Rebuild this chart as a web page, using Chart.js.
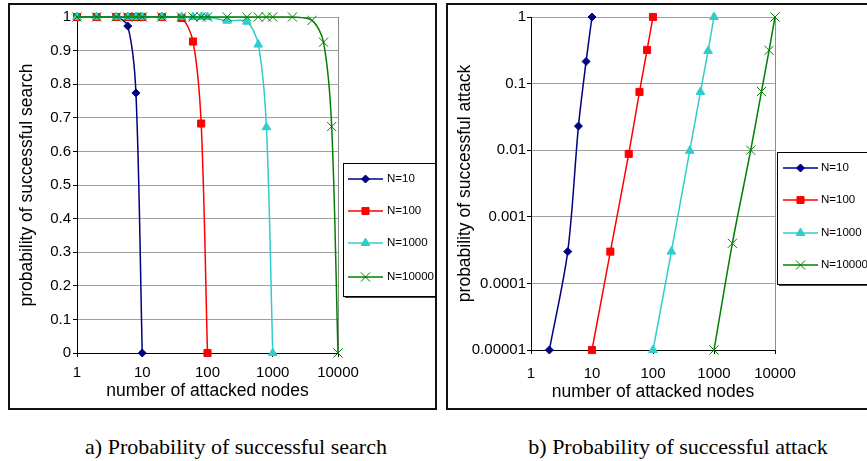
<!DOCTYPE html>
<html>
<head>
<meta charset="utf-8">
<script src="https://cdn.jsdelivr.net/npm/chart.js@4.4.1/dist/chart.umd.min.js"></script>
<style>
  html, body { margin: 0; padding: 0; background: #fff; }
  body { width: 867px; height: 461px; position: relative; overflow: hidden; }
  .panel { position: absolute; top: 3px; height: 407px; border: 2px solid #111; box-sizing: border-box; background: #fff; }
  #panelA { left: 8px; width: 429px; }
  #panelB { left: 446px; width: 430px; }
  .panel canvas { display: block; }
  .caption { position: absolute; top: 435px; line-height: 24px; font-family: "Liberation Serif", "Times New Roman", serif;
             font-size: 22px; color: #000; white-space: nowrap; transform: translateX(-50%); }
</style>
</head>
<body>
<div class="panel" id="panelA"><canvas id="searchChart" width="425" height="403"></canvas></div>
<div class="panel" id="panelB"><canvas id="attackChart" width="426" height="403"></canvas></div>
<div class="caption" style="left:236px">a) Probability of successful search</div>
<div class="caption" style="left:678px">b) Probability of successful attack</div>
<script>
// series names
var seriesLabels = ['N=10', 'N=100', 'N=1000', 'N=10000'];

// axis tick labels
var nodeTicks = [1, 10, 100, 1000, 10000];
var searchTicks = [0, 0.1, 0.2, 0.3, 0.4, 0.5, 0.6, 0.7, 0.8, 0.9, 1];
var attackTicks = [0.00001, 0.0001, 0.001, 0.01, 0.1, 1];

// a) probability of successful search
var searchNodesN10 = [1, 2, 4, 6, 8, 10];
var searchNodesN100 = [1, 2, 4, 6, 8, 10, 20, 40, 60, 80, 100];
var searchNodesN1000 = [1, 2, 4, 6, 8, 10, 20, 40, 60, 80, 100, 200, 400, 600, 800, 1000];
var searchNodesN10000 = [1, 2, 4, 6, 8, 10, 20, 40, 60, 80, 100, 200, 400, 600, 800, 1000, 2000, 4000, 6000, 8000, 10000];
var searchN10 = [1, 1, 1, 0.973, 0.774, 0];
var searchN100 = [1, 1, 1, 1, 1, 1, 1, 0.997, 0.927, 0.683, 0];
var searchN1000 = [1, 1, 1, 1, 1, 1, 1, 1, 1, 1, 1, 0.989, 0.986, 0.918, 0.672, 0];
var searchN10000 = [1, 1, 1, 1, 1, 1, 1, 1, 1, 1, 1, 1, 1, 1, 1, 1, 1, 0.99, 0.925, 0.674, 0];

// b) probability of successful attack
var attackNodesN10 = [2, 4, 6, 8, 10];
var attackNodesN100 = [10, 20, 40, 60, 80, 100];
var attackNodesN1000 = [100, 200, 400, 600, 800, 1000];
var attackNodesN10000 = [1000, 2000, 4000, 6000, 8000, 10000];
var attackN10 = [0.00001, 0.0003, 0.023, 0.215, 1];
var attackN100 = [0.00001, 0.0003, 0.0088, 0.075, 0.32, 1];
var attackN1000 = [0.00001, 0.0003, 0.0098, 0.075, 0.31, 1];
var attackN10000 = [0.00001, 0.0004, 0.01, 0.076, 0.316, 1];

var seriesStyle = [
    { color: '#000080', pointStyle: 'rectRot', radius: 4 },
    { color: '#ff0000', pointStyle: 'rect', radius: 5 },
    { color: '#33cccc', pointStyle: 'triangle', radius: 5 },
    { color: '#008000', pointStyle: 'crossRot', radius: 6.5 }
];

var fontFamily = '"Liberation Sans", Arial, sans-serif';
var tickFont = { family: fontFamily, size: 15 };
var titleFont = { family: fontFamily, size: 17.5 };

function buildDatasets(xsList, ysList) {
    return seriesLabels.map(function (label, i) {
        var st = seriesStyle[i];
        return {
            label: label,
            data: xsList[i].map(function (x, j) { return { x: x, y: ysList[i][j] }; }),
            borderColor: st.color,
            backgroundColor: st.color,
            pointBackgroundColor: st.color,
            pointBorderColor: st.color,
            pointStyle: st.pointStyle,
            pointRadius: st.radius,
            pointBorderWidth: 1,
            borderWidth: 1.5,
            tension: 0.3,
            clip: false,
            order: 3 - i // N=10000 on top
        };
    });
}

// gray plot frame behind the axes, boxed legend on top
var frameAndLegend = {
    id: 'frameAndLegend',
    beforeDraw: function (chart) {
        var ctx = chart.ctx, a = chart.chartArea;
        ctx.save();
        ctx.strokeStyle = '#8c8c8c';
        ctx.lineWidth = 1;
        ctx.strokeRect(Math.round(a.left) + 0.5, Math.round(a.top) + 0.5,
            Math.round(a.right - a.left), Math.round(a.bottom - a.top));
        ctx.restore();
    },
    afterDraw: function (chart, args, opts) {
        var ctx = chart.ctx;
        var b = opts.box;
        ctx.save();
        ctx.fillStyle = '#444';
        ctx.fillRect(b.x + 2, b.y + 2, b.w, b.h);
        ctx.fillStyle = '#fff';
        ctx.fillRect(b.x, b.y, b.w, b.h);
        ctx.strokeStyle = '#000';
        ctx.lineWidth = 1;
        ctx.strokeRect(b.x + 0.5, b.y + 0.5, b.w, b.h);
        ctx.font = '11.5px ' + fontFamily;
        ctx.textBaseline = 'middle';
        ctx.textAlign = 'left';
        chart.data.datasets.forEach(function (ds, i) {
            var y = opts.rows[i];
            ctx.strokeStyle = ds.borderColor;
            ctx.lineWidth = 1.5;
            ctx.beginPath();
            ctx.moveTo(opts.lineX0, y);
            ctx.lineTo(opts.lineX1, y);
            ctx.stroke();
            ctx.fillStyle = ds.pointBackgroundColor;
            ctx.strokeStyle = ds.pointBorderColor;
            ctx.lineWidth = 1;
            Chart.helpers.drawPoint(ctx, {
                pointStyle: ds.pointStyle, radius: ds.pointRadius, rotation: 0, borderWidth: 1
            }, (opts.lineX0 + opts.lineX1) / 2, y);
            ctx.fillStyle = '#000';
            ctx.fillText(ds.label, opts.textX, y);
        });
        ctx.restore();
    }
};

function logXAxis(height, tickPad, titlePad) {
    return {
        type: 'logarithmic', min: 1, max: 10000,
        afterBuildTicks: function (s) { s.ticks = nodeTicks.map(function (v) { return { value: v }; }); },
        afterFit: function (s) { s.height = height; },
        ticks: { callback: function (v) { return String(v); }, color: '#000', font: tickFont,
                 padding: tickPad, maxRotation: 0, autoSkip: false },
        grid: { drawOnChartArea: false, drawTicks: true, tickLength: 4, tickColor: '#000' },
        border: { color: '#000', width: 1 },
        title: { display: true, text: 'number of attacked nodes', color: '#000', font: titleFont,
                 padding: { top: 0, bottom: titlePad } }
    };
}

function yAxis(extra, ticks, width, tickPad, titleText, titlePad) {
    return Object.assign({
        afterBuildTicks: function (s) { s.ticks = ticks.map(function (v) { return { value: v }; }); },
        afterFit: function (s) { s.width = width; },
        ticks: { callback: function (v) { return String(v); }, color: '#000', font: tickFont, padding: tickPad },
        grid: { color: '#a0a0a0', lineWidth: 1, tickColor: '#000', tickLength: 4 },
        border: { color: '#000', width: 1 },
        title: { display: true, text: titleText, color: '#000', font: titleFont,
                 padding: { top: titlePad, bottom: 0 } }
    }, extra);
}

new Chart(document.getElementById('searchChart'), {
    type: 'line',
    data: {
        datasets: buildDatasets(
            [searchNodesN10, searchNodesN100, searchNodesN1000, searchNodesN10000],
            [searchN10, searchN100, searchN1000, searchN10000])
    },
    options: {
        responsive: false,
        animation: false,
        layout: { padding: { left: 0, right: 97, top: 12, bottom: 0 } },
        scales: {
            x: logXAxis(55, 7, 6),
            y: yAxis({ min: 0, max: 1 }, searchTicks, 67, 2, 'probability of successful search', 7)
        },
        plugins: {
            legend: { display: false },
            tooltip: { enabled: false },
            frameAndLegend: {
                box: { x: 333, y: 158, w: 92, h: 133 },
                rows: [174, 206, 238, 272],
                lineX0: 338, lineX1: 373, textX: 377
            }
        }
    },
    plugins: [frameAndLegend]
});

new Chart(document.getElementById('attackChart'), {
    type: 'line',
    data: {
        datasets: buildDatasets(
            [attackNodesN10, attackNodesN100, attackNodesN1000, attackNodesN10000],
            [attackN10, attackN100, attackN1000, attackN10000])
    },
    options: {
        responsive: false,
        animation: false,
        layout: { padding: { left: 0, right: 99, top: 12, bottom: 0 } },
        scales: {
            x: logXAxis(58, 11, 5),
            y: yAxis({ type: 'logarithmic', min: 0.00001, max: 1 }, attackTicks, 83, 1,
                'probability of successful attack', 7)
        },
        plugins: {
            legend: { display: false },
            tooltip: { enabled: false },
            frameAndLegend: {
                box: { x: 329, y: 147, w: 110, h: 132 },
                rows: [163, 195, 228, 260],
                lineX0: 335, lineX1: 370, textX: 373
            }
        }
    },
    plugins: [frameAndLegend]
});
</script>
</body>
</html>
